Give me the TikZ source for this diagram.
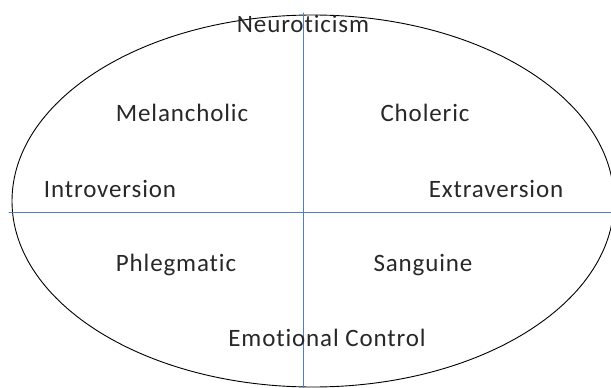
\documentclass[tikz,border=0pt]{standalone}
\usepackage{fontspec}
\setmainfont{Carlito}[Ligatures=NoCommon,LetterSpace=3.5]

\begin{document}
\begin{tikzpicture}[x=1pt,y=-1pt,line cap=round,line join=round,
  axis/.style={line width=1pt,draw={rgb,255:red,79;green,129;blue,189}},
  lbl/.style={inner sep=1pt,text={rgb,255:red,40;green,40;blue,40},font=\fontsize{25}{28}\selectfont}]
\useasboundingbox (0,0) rectangle (611,388);
\coordinate (N) at (303,13);
\coordinate (S) at (303,388);
\coordinate (W) at (9,212);
\coordinate (E) at (611,212);
\draw[line width=0.9pt] (313,201) ellipse [x radius=301,y radius=186];
\draw[axis] (N) -- (S);
\draw[axis] (W) -- (E);
\node[lbl] (neuro) at (303,24) {Neuroticism};
\node[lbl] (melan) at (182,113) {Melancholic};
\node[lbl] (chol) at (425,113) {Choleric};
\node[lbl] (intro) at (110,189) {Introversion};
\node[lbl] (extra) at (496,189) {Extraversion};
\node[lbl] (phleg) at (176,265) {Phlegmatic};
\node[lbl] (sang) at (423,265) {Sanguine};
\node[lbl] (emo) at (327,338) {Emotional Control};
\end{tikzpicture}
\end{document}
